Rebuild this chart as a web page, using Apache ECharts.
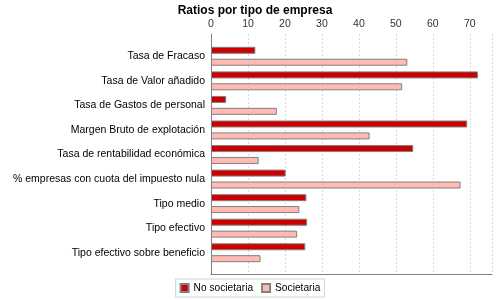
<!DOCTYPE html>
<html><head><meta charset="utf-8">
<script src="https://cdn.jsdelivr.net/npm/echarts@6/dist/echarts.min.js"></script>
<style>html,body{margin:0;padding:0;background:#fff}#c{width:500px;height:300px}</style>
</head><body><div id="c"></div>
<script>
var categories = ["Tasa de Fracaso","Tasa de Valor añadido","Tasa de Gastos de personal","Margen Bruto de explotación","Tasa de rentabilidad económica","% empresas con cuota del impuesto nula","Tipo medio","Tipo efectivo","Tipo efectivo sobre beneficio"];
var noSocietaria = [12.0, 72.2, 4.1, 69.3, 54.7, 20.2, 25.8, 26.0, 25.5];
var societaria = [53.1, 51.7, 17.8, 42.9, 12.9, 67.5, 23.9, 23.3, 13.4];
var seriesNames = ["No societaria","Societaria"];
var xMin = 0, xMax = 76, xInterval = 10;

var chart = echarts.init(document.getElementById('c'), null, {renderer:'canvas'});
var font = 'Liberation Sans';
chart.setOption({
  animation:false,
  backgroundColor:'#fff',
  title:{text:'Ratios por tipo de empresa',left:250,top:0,textAlign:'center',
    textStyle:{fontFamily:font,fontSize:12,fontWeight:'bold',color:'#000'}},
  legend:{bottom:3,left:'center',itemWidth:8,itemHeight:8,itemGap:8,
    borderColor:'#d0d0d0',borderWidth:1,padding:[4,4,4,4],
    textStyle:{fontFamily:font,fontSize:10.2,color:'#000'},
    data:seriesNames.map(function(n){return {name:n,icon:'rect'};})},
  grid:[
    {left:211,right:8,top:34,bottom:26,containLabel:false},
    {left:211,right:8,top:44,bottom:35,containLabel:false}
  ],
  xAxis:[
    {gridIndex:0,type:'value',position:'top',min:xMin,max:xMax,interval:xInterval,
      axisLine:{show:true,lineStyle:{color:'#808080'}},
      axisTick:{show:false},
      axisLabel:{fontFamily:font,fontSize:10.5,color:'#333',margin:4,showMaxLabel:false},
      splitLine:{show:true,lineStyle:{color:'#d8d8d8',type:[2,2]}}},
    {gridIndex:1,type:'value',min:xMin,max:xMax,show:false}
  ],
  yAxis:[
    {gridIndex:0,type:'value',min:0,max:1,axisLine:{show:true,lineStyle:{color:'#808080'}},
      axisTick:{show:false},axisLabel:{show:false},splitLine:{show:false}},
    {gridIndex:1,type:'category',data:categories,inverse:true,
      axisLine:{show:false},axisTick:{show:false},
      axisLabel:{fontFamily:font,fontSize:10.5,color:'#000',margin:6}}
  ],
  series:[
    {name:seriesNames[0],type:'bar',xAxisIndex:1,yAxisIndex:1,data:noSocietaria,
      barWidth:7,barGap:'70%',
      itemStyle:{color:'#cc0000',borderColor:'#808080',borderWidth:1}},
    {name:seriesNames[1],type:'bar',xAxisIndex:1,yAxisIndex:1,data:societaria,
      barWidth:7,barGap:'70%',
      itemStyle:{color:'#ffbbb3',borderColor:'#808080',borderWidth:1}}
  ]
});
</script></body></html>
